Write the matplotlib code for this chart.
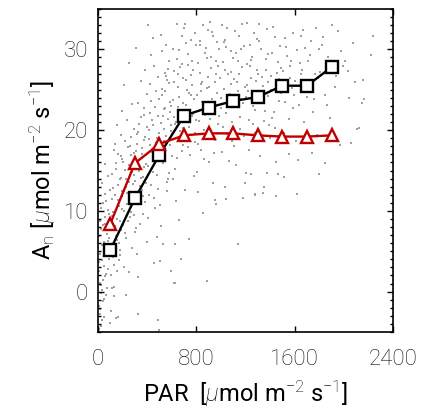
import matplotlib
matplotlib.use("Agg")
import matplotlib.pyplot as plt
from matplotlib.ticker import MultipleLocator

# binned means (every 200 PAR)
bin_par = [100, 300, 500, 700, 900, 1100, 1300, 1500, 1700, 1900]
an_black = [5.15, 11.55, 16.95, 21.8, 22.8, 23.6, 24.1, 25.5, 25.5, 27.8]
an_red = [8.4, 15.9, 18.3, 19.35, 19.6, 19.6, 19.35, 19.2, 19.2, 19.35]

obs_par = [
    # 0-100
    8, 15, 22, 30, 12, 40, 55, 18, 65, 35,
    48, 72, 25, 85, 10, 58, 33, 90, 44, 20,
    68, 5, 52, 28, 80, 38, 62, 14, 95, 46,
    75, 24, 57, 88, 32, 66, 9, 50, 82, 41,
    70, 19, 60, 36, 92, 27, 78, 45, 3, 54,
    # 100-200
    105, 112, 118, 125, 132, 140, 147, 155, 162, 170,
    178, 185, 192, 198, 108, 121, 136, 151, 166, 181,
    196, 115, 128, 143, 158, 173, 188, 102, 138, 160,
    176, 194, 110, 131, 149, 168, 186, 124, 145, 190,
    114, 157, 183, 134, 199,
    # 200-300
    205, 212, 220, 228, 236, 244, 252, 260, 268, 276,
    284, 292, 298, 208, 216, 225, 233, 241, 249, 257,
    265, 273, 281, 289, 296, 210, 230, 250, 270, 290,
    215, 238, 262, 286, 222, 246, 278, 202, 254, 294,
    # 300-400
    302, 310, 318, 326, 334, 342, 350, 358, 366, 374,
    382, 390, 398, 306, 322, 338, 354, 370, 386, 314,
    330, 346, 362, 378, 394, 320, 345, 372, 396, 308,
    336, 364, 392, 328, 356, 384, 316, 348, 376, 399,
    # 400-500
    404, 412, 420, 428, 436, 444, 452, 460, 468, 476,
    484, 492, 498, 408, 424, 440, 456, 472, 488, 416,
    432, 448, 464, 480, 496, 410, 430, 450, 470, 490,
    418, 438, 458, 478, 494, 426, 446, 466,
    # 500-600
    503, 511, 519, 527, 535, 543, 551, 559, 567, 575,
    583, 591, 599, 507, 523, 539, 555, 571, 587, 515,
    531, 547, 563, 579, 595, 509, 529, 549, 569, 589,
    517, 537, 557, 577, 597, 525, 545, 565,
    # 600-700
    604, 613, 622, 631, 640, 649, 658, 667, 676, 685,
    694, 608, 626, 644, 662, 680, 698, 617, 635, 653,
    671, 689, 610, 630, 650, 670, 690, 620, 660, 695,
    642, 682,
    # 700-800
    703, 712, 721, 730, 739, 748, 757, 766, 775, 784,
    793, 708, 726, 744, 762, 780, 798, 717, 735, 753,
    771, 789, 705, 732, 760, 786, 714, 742, 768, 795,
    # 800-900
    804, 813, 822, 831, 840, 849, 858, 867, 876, 885,
    894, 808, 826, 844, 862, 880, 898, 817, 835, 853,
    871, 889, 810, 838, 866, 892, 829, 857,
    # 900-1000
    903, 912, 921, 930, 939, 948, 957, 966, 975, 984,
    993, 907, 925, 943, 961, 979, 997, 916, 934, 952,
    970, 988, 910, 945, 980, 928, 964,
    # 1000-1100
    1004, 1015, 1026, 1037, 1048, 1059, 1070, 1081, 1092, 1009,
    1031, 1053, 1075, 1097, 1020, 1042, 1064, 1086, 1012, 1045,
    1078, 1035, 1068, 1090, 1025,
    # 1100-1200
    1103, 1114, 1125, 1136, 1147, 1158, 1169, 1180, 1191, 1108,
    1130, 1152, 1174, 1196, 1119, 1141, 1163, 1185, 1111, 1144,
    1177, 1134, 1167,
    # 1200-1300
    1204, 1215, 1226, 1237, 1248, 1259, 1270, 1281, 1292, 1209,
    1231, 1253, 1275, 1297, 1220, 1242, 1264, 1286, 1212, 1245,
    1278, 1236,
    # 1300-1400
    1303, 1315, 1327, 1339, 1351, 1363, 1375, 1387, 1399, 1309,
    1333, 1357, 1381, 1321, 1345, 1369, 1393, 1312, 1348, 1384,
    # 1400-1500
    1404, 1417, 1430, 1443, 1456, 1469, 1482, 1495, 1410, 1436,
    1462, 1488, 1423, 1449, 1475, 1413, 1452, 1491,
    # 1500-1600
    1505, 1518, 1531, 1544, 1557, 1570, 1583, 1596, 1511, 1537,
    1563, 1589, 1524, 1550, 1576, 1515, 1560,
    # 1600-1700
    1606, 1620, 1634, 1648, 1662, 1676, 1690, 1613, 1641, 1669,
    1697, 1627, 1655, 1683, 1617,
    # 1700-1800
    1705, 1720, 1735, 1750, 1765, 1780, 1795, 1712, 1742, 1772,
    1727, 1757, 1787,
    # 1800-2000
    1810, 1830, 1850, 1870, 1890, 1910, 1930, 1950, 1970, 1990,
    1820, 1860, 1900, 1940, 1980, 1845,
    # 2000-2300
    2010, 2040, 2075, 2110, 2030, 2090, 2150, 2060, 2220, 2235,
    2159, 2167, 2126,
    # low outliers
    673, 621, 889, 1137, 491, 594, 1277, 1193, 949, 1044,
    629, 502, 626, 494, 325, 95, 230, 163, 1204, 1372,
    1467, 1801, 1280, 1340,
]
obs_an = [
    # 0-100
    -4.6, -2.1, 0.8, -3.5, 2.5, -1.2, 1.9, 4.6, -0.4, 5.8,
    3.2, 7.1, -4.2, 2.8, 6.9, 9.3, 0.2, 4.1, 8.2, -2.8,
    11.2, 3.7, -3.1, 10.4, 6.3, 1.5, 5.2, 8.8, 12.6, -0.9,
    0.5, 7.7, 12.1, 9.6, 3.9, 2.2, -1.8, 6.1, 14.3, 11.0,
    4.8, 1.1, 8.4, 13.5, 6.7, -0.2, 10.1, 4.4, 7.4, 15.8,
    # 100-200
    2.1, 9.4, 5.5, 12.8, 0.6, 8.1, 15.2, 6.4, 11.3, 3.9,
    13.9, 7.6, 10.2, 16.4, -2.4, 4.3, 12.0, 9.0, 17.1, 5.1,
    11.8, 14.6, -0.6, 6.9, 2.6, 10.6, 14.1, 7.9, 18.3, 13.2,
    8.7, 12.5, 11.5, 3.3, 15.9, 6.0, 19.4, 9.9, -3.3, 16.8,
    0.4, 20.6, 4.5, 17.6, 22.4,
    # 200-300
    8.3, 12.4, 15.1, 6.6, 10.8, 17.9, 13.6, 9.2, 19.2, 14.8,
    11.7, 16.3, 7.4, 3.1, 18.6, 12.9, 21.3, 8.8, 15.7, 11.0,
    16.9, 5.4, 13.3, 20.1, 14.4, 10.0, 14.0, 2.4, 9.8, 17.2,
    25.6, 12.2, 18.0, 11.4, 7.2, 13.8, 23.2, 16.0, 28.3, 9.5,
    # 300-400
    13.7, 17.4, 10.9, 19.8, 15.0, 12.3, 21.6, 16.6, 14.2, 18.8,
    11.1, 15.8, 20.4, 7.9, 23.4, 13.1, 17.8, 9.6, 19.1, 4.7,
    14.9, 26.1, 12.6, 22.7, 16.9, 18.3, 8.4, 15.4, 24.5, 30.2,
    20.8, 11.9, 13.4, 1.8, 17.0, 27.4, 19.5, 14.1, 21.9, 6.2,
    # 400-500
    15.6, 18.9, 22.1, 13.2, 17.3, 20.6, 11.6, 16.1, 24.8, 19.0,
    14.5, 21.7, 17.9, 9.1, 25.7, 15.3, 27.9, 18.4, 12.7, 20.0,
    29.3, 16.7, 22.9, 6.8, 19.6, 33.0, 23.6, 14.8, 17.1, 26.6,
    12.0, 21.2, 3.5, 16.4, 23.9, 18.2, 31.4, 10.3,
    # 500-600
    17.2, 20.9, 24.3, 15.9, 22.6, 27.1, 19.3, 13.6, 21.4, 25.8,
    18.1, 23.0, 16.8, 10.7, 29.8, 20.2, 26.7, 14.0, 22.2, 31.8,
    17.7, 24.9, 12.4, 28.6, 19.9, 8.1, 21.8, 16.2, 27.6, 23.5,
    25.1, 18.7, 30.6, 14.7, 20.6, 5.9, 22.8, 26.2,
    # 600-700
    19.5, 23.7, 27.3, 21.0, 16.5, 25.3, 29.9, 18.6, 22.4, 31.6,
    26.4, 13.9, 20.7, 28.8, 24.1, 17.4, 32.7, 21.6, 11.2, 26.9,
    19.9, 23.3, 30.1, 15.2, 22.9, 27.8, 20.3, 25.9, 8.9, 18.2,
    33.1, 28.2,
    # 700-800
    22.5, 26.2, 19.0, 29.4, 24.6, 16.9, 31.2, 21.7, 27.5, 23.8,
    18.5, 33.2, 25.0, 20.4, 28.6, 14.3, 30.5, 23.1, 17.9, 26.8,
    22.0, 32.0, 12.6, 28.1, 24.3, 19.7, 30.8, 6.5, 25.6, 21.3,
    # 800-900
    24.4, 28.3, 21.1, 31.0, 17.6, 26.0, 22.6, 29.6, 19.4, 25.2,
    32.4, 14.8, 27.1, 23.5, 20.0, 30.2, 26.6, 18.3, 24.9, 33.0,
    21.9, 28.9, 12.3, 25.7, 16.4, 23.0, 30.5, 9.7,
    # 900-1000
    25.3, 21.4, 29.0, 23.9, 31.7, 18.8, 27.0, 24.6, 20.7, 30.0,
    26.5, 16.1, 32.2, 22.3, 28.5, 19.6, 24.0, 27.7, 13.4, 25.9,
    30.9, 21.8, 33.4, 17.2, 28.0, 23.2, 10.8,
    # 1000-1100
    22.7, 28.4, 25.1, 31.2, 19.5, 26.9, 23.6, 29.8, 21.0, 17.3,
    27.5, 32.6, 24.5, 28.9, 20.4, 30.3, 16.2, 25.7, 33.0, 22.1,
    27.2, 12.9, 24.0, 18.6, 30.9,
    # 1100-1200
    26.3, 22.9, 29.5, 24.8, 31.6, 20.2, 27.8, 23.4, 30.4, 18.0,
    26.0, 21.6, 33.2, 25.4, 15.7, 28.6, 23.9, 19.3, 32.3, 27.0,
    11.6, 24.3, 30.0,
    # 1200-1300
    24.1, 28.2, 21.3, 30.6, 26.4, 23.0, 32.0, 19.7, 27.4, 25.6,
    17.5, 29.1, 22.5, 31.3, 24.9, 28.7, 20.8, 26.1, 33.3, 14.6,
    23.7, 27.9,
    # 1300-1400
    27.0, 23.3, 30.1, 25.5, 21.1, 28.8, 32.5, 24.2, 19.0, 31.0,
    26.6, 22.4, 29.4, 16.8, 24.7, 27.5, 20.6, 33.1, 13.0, 25.9,
    # 1400-1500
    25.0, 29.6, 22.2, 31.5, 27.1, 23.6, 30.4, 18.5, 26.7, 20.3,
    28.4, 24.6, 32.8, 16.1, 26.3, 21.5, 11.9, 27.7,
    # 1500-1600
    27.3, 23.5, 30.3, 25.9, 21.4, 28.6, 32.0, 24.3, 19.6, 29.2,
    26.5, 22.8, 31.4, 17.0, 25.2, 14.2, 27.9,
    # 1600-1700
    26.1, 29.9, 23.1, 31.7, 27.4, 21.0, 25.6, 18.7, 28.3, 32.4,
    24.1, 16.3, 26.9, 30.2, 12.1,
    # 1700-1800
    28.5, 24.7, 31.0, 22.3, 27.0, 19.4, 30.1, 25.9, 17.2, 32.6,
    29.3, 23.9, 26.4,
    # 1800-2000
    27.2, 31.5, 24.4, 29.0, 21.5, 28.1, 25.3, 32.3, 18.2, 27.9,
    30.6, 23.1, 33.0, 26.7, 29.8, 15.9,
    # 2000-2300
    28.6, 24.0, 30.8, 20.1, 27.3, 26.0, 23.4, 18.4, 29.3, 31.7,
    26.2, 23.8, 20.3,
    # low outliers
    4.0, 1.1, 1.3, 5.9, -3.5, 2.6, 12.1, 13.4, 11.3, 11.5,
    5.9, 3.8, 1.1, -4.7, -2.8, -3.9, -0.4, -3.1, 14.7, 14.7,
    14.6, 14.6, 12.0, 12.2,
]
n = min(len(obs_par), len(obs_an))

plt.rcParams["font.family"] = ["Roboto", "DejaVu Sans"]
plt.rcParams["font.weight"] = "light"
plt.rcParams["mathtext.fontset"] = "custom"
plt.rcParams["mathtext.rm"] = "Roboto:light"
plt.rcParams["mathtext.it"] = "Roboto:italic:light"

fig = plt.figure(figsize=(4.22, 4.11), dpi=100)
ax = fig.add_axes([98 / 422, 1 - 332 / 411, 295 / 422, 323 / 411])

ax.scatter(obs_par[:n], obs_an[:n], s=4, marker="s", color="#a0a0a0",
           linewidths=0, zorder=1)
ax.plot(bin_par, an_black, color="black", lw=1.7, marker="s", ms=8.5,
        mfc="white", mec="black", mew=1.7, zorder=3)
ax.plot(bin_par, an_red, color="#c00000", lw=1.7, marker="^", ms=9,
        mfc="white", mec="#c00000", mew=1.7, zorder=4)

ax.set_xlim(0, 2400)
ax.set_ylim(-5, 35)
ax.set_xticks([0, 800, 1600, 2400])
ax.set_yticks([0, 10, 20, 30])
ax.yaxis.set_minor_locator(MultipleLocator(1))
ax.tick_params(which="major", direction="in", top=True, right=True,
               length=4, width=1, labelsize=16, labelcolor="#111111")
ax.tick_params(which="minor", direction="in", left=True, right=True,
               length=2.2, width=1)
ax.tick_params(axis="x", pad=12)
ax.tick_params(axis="y", pad=7)
for s in ax.spines.values():
    s.set_linewidth(1.2)

ax.set_xlabel(r"PAR  [$\mu$mol m$^{-2}$ s$^{-1}$]", fontsize=17, labelpad=6)
ax.set_ylabel(r"A$_\mathrm{n}$ [$\mu$mol m$^{-2}$ s$^{-1}$]", fontsize=17, labelpad=4)

fig.savefig("out.png", dpi=100)
